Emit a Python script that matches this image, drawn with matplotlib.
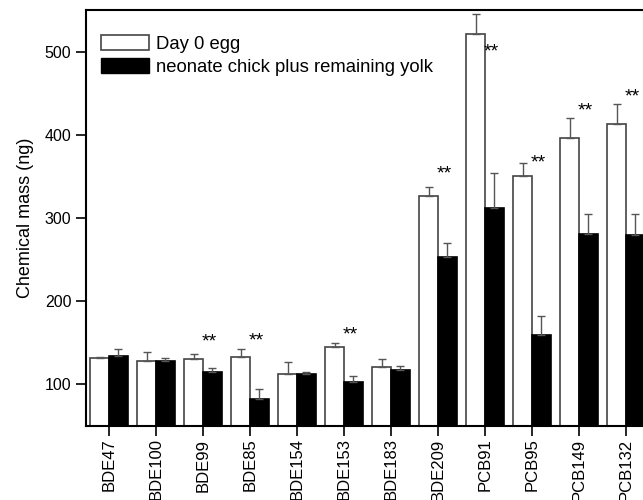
import numpy as np
from matplotlib import pyplot as plt
from matplotlib.patches import Patch

plt.rcParams['font.family'] = ['Liberation Sans', 'DejaVu Sans']

# congeners on x axis
labels = ['BDE47', 'BDE100', 'BDE99', 'BDE85', 'BDE154', 'BDE153', 'BDE183',
          'BDE209', 'PCB91', 'PCB95', 'PCB149', 'PCB132']

# day 0 egg (white) and neonate chick plus yolk (black), mean and SE
egg = [132, 128, 130, 133, 113, 145, 121, 326, 521, 351, 396, 413]
egg_err = [1, 11, 7, 10, 14, 5, 10, 11, 24, 15, 24, 24]
chick = [134, 128, 115, 83, 112, 103, 117, 253, 312, 159, 281, 280]
chick_err = [8, 4, 5, 12, 3, 7, 5, 17, 42, 23, 24, 25]

# groups with significant difference and where the ** sits
sig = [2, 3, 5, 7, 8, 9, 10, 11]
sig_y = [151, 152, 159, 353, 500, 366, 429, 445]

x = np.arange(len(labels))
w = 0.4

fig = plt.figure(figsize=(6.43, 5), dpi=100)
ax = fig.add_axes([86 / 643, 74 / 500, 563.5 / 643, 416 / 500])

err_kw = dict(ecolor='#555555', elinewidth=1, capsize=3, capthick=1)
ax.bar(x - w / 2, egg, w, color='white', edgecolor='#444444',
       linewidth=1.2, yerr=[np.zeros(len(x)), egg_err], error_kw=err_kw)
ax.bar(x + w / 2, chick, w, color='black', edgecolor='black',
       linewidth=1.2, yerr=[np.zeros(len(x)), chick_err], error_kw=err_kw)

for i, yy in zip(sig, sig_y):
    ax.text(x[i] + 0.14, yy, '**', ha='center', va='center', fontsize=14)

ax.set_xlim(-0.49, 11.5)
ax.set_ylim(50, 550)
ax.set_yticks([100, 200, 300, 400, 500])
ax.set_xticks(x)
ax.set_xticklabels(labels, rotation=90, fontsize=12)
ax.tick_params(axis='y', labelsize=11.5, length=7, width=1.2, direction='out')
ax.tick_params(axis='x', length=7, width=1.2, direction='out', pad=2)
ax.set_ylabel('Chemical mass (ng)', fontsize=13, labelpad=8)

for s in ['left', 'bottom', 'top']:
    ax.spines[s].set_linewidth(1.5)
ax.spines['right'].set_visible(False)

handles = [Patch(facecolor='white', edgecolor='#444444', linewidth=1.2),
           Patch(facecolor='black', edgecolor='black')]
ax.legend(handles, ['Day 0 egg', 'neonate chick plus remaining yolk'],
          loc='upper left', frameon=False, fontsize=13.3, handlelength=2.6,
          handleheight=0.85, handletextpad=0.35, labelspacing=0.25,
          bbox_to_anchor=(0.004, 0.97), borderaxespad=0.3)

fig.savefig('out.png', dpi=100)
